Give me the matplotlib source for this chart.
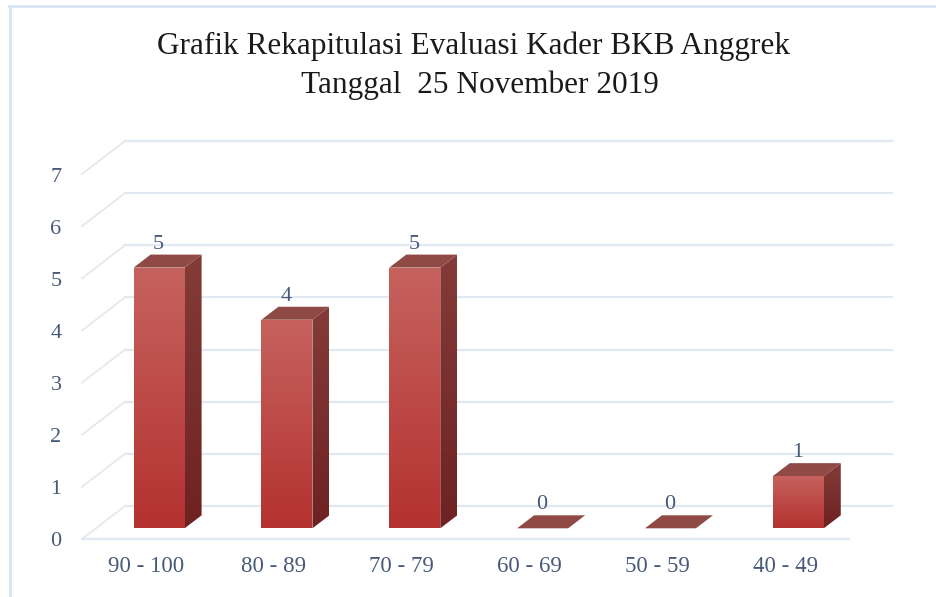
import numpy as np
import matplotlib
matplotlib.use("Agg")
import matplotlib.pyplot as plt
from matplotlib.patches import Polygon

categories = ["90 - 100", "80 - 89", "70 - 79", "60 - 69", "50 - 59", "40 - 49"]
values = [5, 4, 5, 0, 0, 1]
y_ticks = [0, 1, 2, 3, 4, 5, 6, 7]

W, H = 936, 597
text_color = "#475a78"
grid_color = "#e0e8f2"
wall_color = "#e5e8ec"

plt.rcParams["font.family"] = ["Liberation Serif", "DejaVu Serif"]

fig = plt.figure(figsize=(W / 100, H / 100), dpi=100)
fig.patch.set_facecolor("white")

# front floor plane runs 82..849 px, value 0 at y=539, value 7 at y=174
ax = fig.add_axes([82 / W, 1 - 539 / H, (849 - 82) / W, (539 - 174) / H])
ax.axis("off")

ux = (849 - 82) / 6  # px per category
uy = (539 - 174) / 7  # px per value
depth_x = 43 / ux  # depth of the floor
depth_y = 33 / uy
bar_dx = 17 / ux  # depth of one bar
bar_dy = 13 / uy
bar_w = 51 / ux
bar_shift = 13.2 / ux
bar_lift = 10.7 / uy

# back wall gridlines and left wall diagonals
for t in y_ticks:
    ax.plot([-0.5 + depth_x, 5.5 + depth_x], [t + depth_y, t + depth_y], color=grid_color, lw=1.6, clip_on=False, zorder=1)
    ax.plot([-0.5, -0.5 + depth_x], [t, t + depth_y], color=wall_color, lw=1.3, clip_on=False, zorder=1)
ax.plot([-0.5, 5.5], [0, 0], color=grid_color, lw=1.6, clip_on=False, zorder=1)


def gradient_poly(verts, top_rgb, bottom_rgb, z):
    poly = Polygon(verts, closed=True, facecolor="none", edgecolor="none", zorder=z)
    ax.add_patch(poly)
    xs = [v[0] for v in verts]
    ys = [v[1] for v in verts]
    g = np.linspace(0, 1, 64)[:, None, None]
    img = (1 - g) * np.array(top_rgb)[None, None, :] + g * np.array(bottom_rgb)[None, None, :]
    im = ax.imshow(img / 255, extent=[min(xs), max(xs), min(ys), max(ys)], aspect="auto",
                   origin="upper", zorder=z, interpolation="bilinear")
    im.set_clip_path(poly)


for i, v in enumerate(values):
    x0 = i + bar_shift - bar_w / 2
    x1 = x0 + bar_w
    y0 = bar_lift
    y1 = bar_lift + v
    # top face
    top = [(x0, y1), (x1, y1), (x1 + bar_dx, y1 + bar_dy), (x0 + bar_dx, y1 + bar_dy)]
    ax.add_patch(Polygon(top, closed=True, facecolor="#8f4a45", edgecolor="none", zorder=4))
    if v > 0:
        side = [(x1, y0), (x1 + bar_dx, y0 + bar_dy), (x1 + bar_dx, y1 + bar_dy), (x1, y1)]
        gradient_poly(side, (132, 60, 56), (110, 34, 34), 3)
        front = [(x0, y0), (x1, y0), (x1, y1), (x0, y1)]
        gradient_poly(front, (198, 98, 94), (180, 50, 48), 5)
    ax.text(i + bar_shift - 0.005, y1 + bar_dy + 10.5 / uy, str(v), ha="center", va="center",
            fontsize=16, color=text_color, zorder=6)

for i, c in enumerate(categories):
    ax.text(i, -27 / uy, c, ha="center", va="center", fontsize=16.5, color=text_color)
for t in y_ticks:
    ax.text(-0.5 - 26 / ux, t - 3 / uy, str(t), ha="center", va="center", fontsize=16, color=text_color)

ax.set_xlim(-0.5, 5.5)
ax.set_ylim(0, 7)

# outer chart border, left and top only are visible
fig.add_artist(plt.Line2D([9.5 / W, 9.5 / W], [0, 1 - 6 / H], color="#d5e4f1", lw=2))
fig.add_artist(plt.Line2D([9 / W, 1], [1 - 6 / H, 1 - 6 / H], color="#d8e4f0", lw=2))

fig.text(473.5 / W, 1 - 46 / H, "Grafik Rekapitulasi Evaluasi Kader BKB Anggrek", ha="center", va="center",
         fontsize=22.5, color="#1a1a1a")
fig.text(479.5 / W, 1 - 85 / H, "Tanggal  25 November 2019", ha="center", va="center",
         fontsize=22.5, color="#1a1a1a")

fig.savefig("out.png", dpi=100)
